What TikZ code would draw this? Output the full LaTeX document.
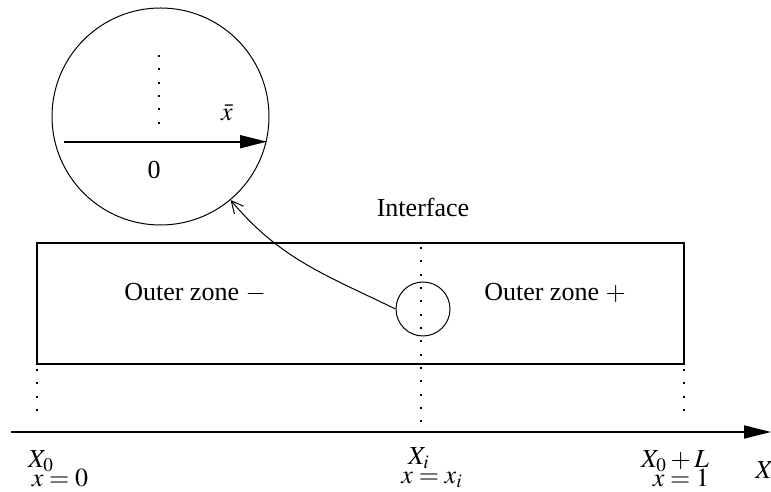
\documentclass[tikz,border=0pt]{standalone}
\usepackage{mathptmx}
\usepackage[no-math]{fontspec}
\setmainfont{Liberation Serif}
\usetikzlibrary{arrows.meta}
\tikzset{
  lbl/.style={inner sep=0pt, font=\fontsize{13}{15}\selectfont},
  dotline/.style={line width=1pt, dash pattern=on 1pt off 5.67pt},
  ring/.style={draw, circle, inner sep=0pt, line width=0.5pt},
  axis/.style={line width=0.9pt, -{Triangle[length=13.5pt,width=6.5pt]}},
}
\begin{document}
\begin{tikzpicture}[x=0.5pt,y=0.5pt]
\useasboundingbox (0,0) rectangle (771,492);
% zoom circle
\node[ring, minimum size=108.5pt] (zoom) at (160.5,375.5) {};
\coordinate (ztop) at (159,437);
\coordinate (zbot) at (159,357);
\draw[dotline] (ztop) -- (zbot);
\coordinate (za) at (64,350.3);
\coordinate (zb) at (267,350.3);
\draw[axis] (za) -- (zb);
\node[lbl] (xbar) at (227,379) {$\bar{x}$};
\node[lbl] (zero) at (154,322) {0};
% box
\node[draw, line width=0.7pt, minimum width=323.5pt, minimum height=60.5pt, inner sep=0pt] (box) at (360.5,188.5) {};
\node[lbl] (iface) at (423,285) {Interface};
\node[lbl] (om) at (195,199) {Outer zone $-$};
\node[lbl] (op) at (555,199) {Outer zone $+$};
% interface line
\coordinate (it) at (421,245);
\coordinate (ib) at (421,70);
\draw[dotline] (it) -- (ib);
\node[ring, minimum size=27pt] (loc) at (423,183) {};
% curved arrow
\draw[line width=0.5pt, -{Straight Barb[length=6pt,width=6pt]}] (loc.west) to[out=154,in=-50] (zoom.-50);
% outer dotted lines
\coordinate (l1) at (37,123); \coordinate (l2) at (37,70);
\coordinate (r1) at (684,123); \coordinate (r2) at (684,70);
\draw[dotline] (l1) -- (l2);
\draw[dotline] (r1) -- (r2);
% main axis
\coordinate (a1) at (11,60);
\coordinate (a2) at (771,60);
\draw[axis] (a1) -- (a2);
\node[lbl] (X0) at (41,31) {$X_0$};
\node[lbl] (x0) at (60,14) {$x = 0$};
\node[lbl] (Xi) at (419,34) {$X_i$};
\node[lbl] (xi) at (432,12) {$x = x_i$};
\node[lbl] (XL) at (675,31) {$X_0 + L$};
\node[lbl] (x1) at (681,14) {$x = 1$};
\node[lbl, anchor=west] (X) at (755,22) {$X$};
\end{tikzpicture}
\end{document}
